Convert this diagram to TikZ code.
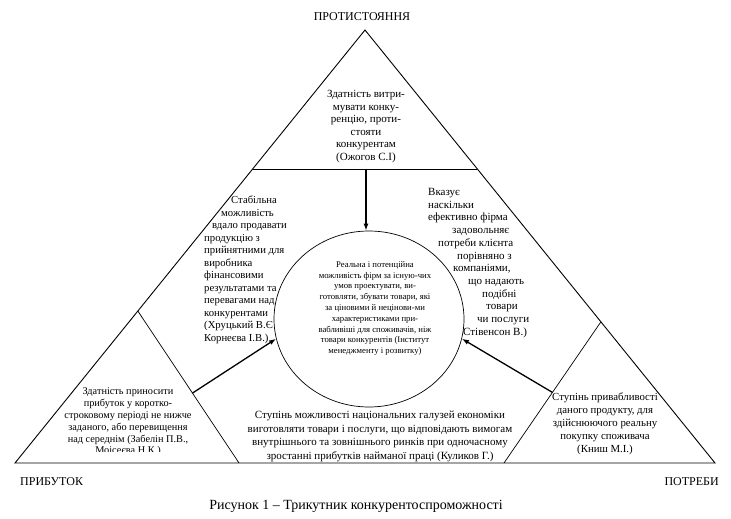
\documentclass[tikz,border=0pt]{standalone}
\usepackage{fontspec}
\setmainfont{Liberation Serif}
\usetikzlibrary{arrows.meta,calc,shapes.geometric}
\begin{document}
\begin{tikzpicture}[x=1pt,y=-1pt,
  outer/.style={line width=0.9pt},
  inner/.style={line width=0.7pt},
  arr/.style={line width=1.3pt,-{Latex[length=7pt,width=5pt]}},
  txt/.style={inner sep=0pt,font=\fontsize{10}{12.6}\selectfont},
  lbl/.style={inner sep=0pt,font=\fontsize{12}{14}\selectfont}]
\useasboundingbox (0,0) rectangle (731,519);
% triangle
\coordinate (A) at (365,30);
\coordinate (L) at (15,463);
\coordinate (R) at (715,463);
\draw[outer] (A) -- (L) -- (R) -- cycle;
% inner dividing lines
\coordinate (tl) at ($(A)!0.321!(L)$);
\coordinate (tr) at ($(A)!0.321!(R)$);
\draw[inner] (tl) -- (tr);
\coordinate (ls) at ($(A)!0.649!(L)$);
\coordinate (lb) at (239,463);
\draw[inner] (ls) -- (lb);
\coordinate (rs) at ($(A)!0.674!(R)$);
\coordinate (rb) at (504,463);
\draw[inner] (rs) -- (rb);
% central ellipse
\node[draw,inner,ellipse,minimum width=190pt,minimum height=176pt,inner sep=0pt] (core) at (369,319) {};
% arrows
\coordinate (ta) at (366,169);
\draw[arr] (ta) -- (ta |- core.north);
\coordinate (la) at ($(ls)!0.54!(lb)$);
\draw[arr] (la) -- (core.192);
\coordinate (ra) at ($(rs)!0.5!(rb)$);
\draw[arr] (ra) -- (core.348);
% texts
\node[lbl] (top) at (362,17) {ПРОТИСТОЯННЯ};
\node[lbl,anchor=west] (profit) at (20,482) {ПРИБУТОК};
\node[lbl,anchor=east] (needs) at (719,482) {ПОТРЕБИ};
\node[inner sep=0pt,font=\fontsize{14}{16}\selectfont] (caption) at (356,506) {Рисунок 1 – Трикутник конкурентоспроможності};
\node[txt,align=center,font=\fontsize{11}{12.6}\selectfont] (ttext) at (366,126.5) {Здатність витри-\\мувати конку-\\ренцію, проти-\\стояти\\конкурентам\\(Ожогов С.І)};
\node[txt,align=left,anchor=west,font=\fontsize{10.7}{12.5}\selectfont] (ltext) at (204,270) {\hspace*{27pt}Стабільна\\\hspace*{17pt}можливість\\\hspace*{8pt}вдало продавати\\продукцію з\\прийнятними для\\виробника\\фінансовими\\результатами та\\перевагами над\\конкурентами\\(Хруцький В.Є\\Корнеєва І.В.)};
\node[txt,align=left,anchor=west,font=\fontsize{11}{12.7}\selectfont] (rtext) at (428,263) {Вказує\\наскільки\\ефективно фірма\\\hspace*{24pt}задовольняє\\\hspace*{10pt}потреби клієнта\\\hspace*{29pt}порівняно з\\\hspace*{25pt}компаніями,\\\hspace*{40pt}що надають\\\hspace*{54pt}подібні\\\hspace*{58pt}товари\\\hspace*{49pt}чи послуги\\\hspace*{35pt}Стівенсон В.)};
\node[txt,align=center,font=\fontsize{8.7}{10.8}\selectfont] (ctext) at (375,308.5) {Реальна і потенційна\\можливість фірм за існую-чих\\умов проектувати, ви-\\готовляти, збувати товари, які\\за ціновими й нецінови-ми\\характеристиками при-\\вабливіші для споживачів, ніж\\товари конкурентів (Інститут\\менеджменту і розвитку)};
\begin{scope}
\clip (0,0) rectangle (731,451);
\node[txt,align=center,font=\fontsize{10.3}{11.8}\selectfont] (bltext) at (128,422) {Здатність приносити\\прибуток у коротко-\\строковому періоді не нижче\\заданого, або перевищення\\над середнім (Забелін П.В.,\\Моісеєва Н.К.)};
\end{scope}
\node[txt,align=center,font=\fontsize{11}{13.5}\selectfont] (bmtext) at (380,436.5) {Ступінь можливості національних галузей економіки\\виготовляти товари і послуги, що відповідають вимогам\\внутрішнього та зовнішнього ринків при одночасному\\зростанні прибутків найманої праці (Куликов Г.)};
\node[txt,align=center,font=\fontsize{10.8}{13}\selectfont] (brtext) at (605,424) {Ступінь привабливості\\даного продукту, для\\здійснюючого реальну\\покупку споживача\\(Книш М.І.)};
\end{tikzpicture}
\end{document}
